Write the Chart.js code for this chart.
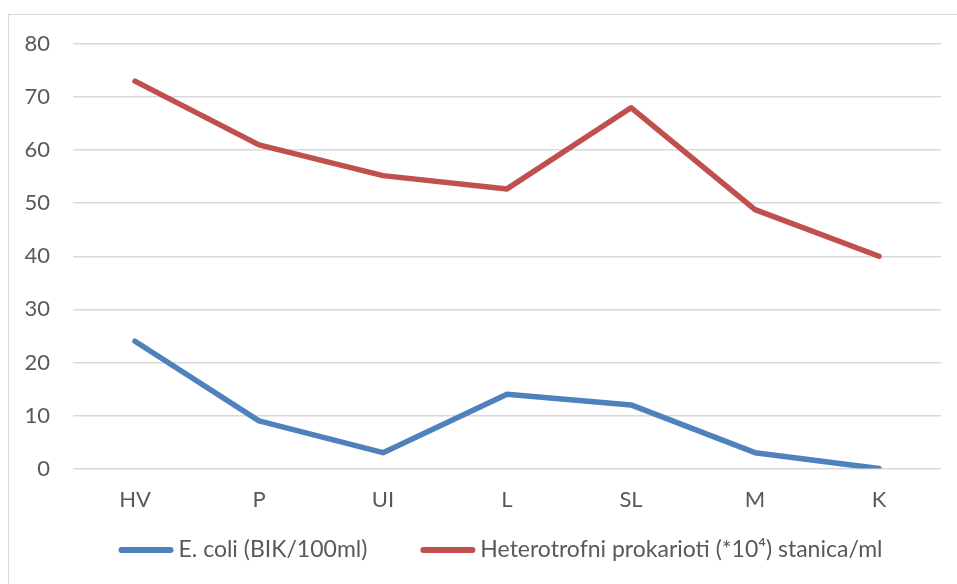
<!DOCTYPE html>
<html>
<head>
<meta charset="utf-8">
<script src="https://cdn.jsdelivr.net/npm/chart.js@4"></script>
<style>
  html, body { margin: 0; padding: 0; background: #fff; }
  body { width: 957px; height: 584px; position: relative; overflow: hidden; }
  #frame { position: absolute; left: 8px; top: 14px; width: 990px; height: 600px;
           border: 1.5px solid #d9d9d9; box-sizing: border-box; }
  #wrap { position: absolute; left: 9px; top: 15px; width: 983px; height: 569px; }
</style>
</head>
<body>
<div id="frame"></div>
<div id="wrap"><canvas id="c"></canvas></div>
<script>
// Sampling sites along the route
const categories = ['HV', 'P', 'UI', 'L', 'SL', 'M', 'K'];
// E. coli counts (BIK/100ml)
const ecoli = [24, 9, 3, 14, 12, 3, 0];
// Heterotrophic prokaryotes (*10^4 cells/ml)
const heterotrofni = [73, 61, 55.2, 52.7, 68, 48.8, 40];
const yTicks = [0, 10, 20, 30, 40, 50, 60, 70, 80];

const fontFamily = "Lato, 'Noto Sans', sans-serif";
const textColor = '#595959';
const fontSize = 22;
const legendFontSize = 23;

// Bottom legend: a short thick line sample directly followed by the series name
const bottomLegend = {
  id: 'bottomLegend',
  afterDraw(chart) {
    const ctx = chart.ctx;
    const sampleLen = 55, textGap = 5, itemGap = 53;
    ctx.save();
    ctx.font = legendFontSize + 'px ' + fontFamily;
    const items = chart.data.datasets.map(ds => ({
      text: ds.label, color: ds.borderColor, w: ctx.measureText(ds.label).width
    }));
    const total = items.reduce((s, it) => s + sampleLen + textGap + it.w, 0) + itemGap * (items.length - 1);
    let x = (chart.width - total) / 2;
    const y = chart.height - 34;
    items.forEach(it => {
      ctx.strokeStyle = it.color;
      ctx.lineWidth = 6;
      ctx.lineCap = 'round';
      ctx.beginPath();
      ctx.moveTo(x + 3, y);
      ctx.lineTo(x + sampleLen - 3, y);
      ctx.stroke();
      ctx.fillStyle = textColor;
      ctx.textAlign = 'left';
      ctx.textBaseline = 'middle';
      ctx.fillText(it.text, x + sampleLen + textGap, y);
      x += sampleLen + textGap + it.w + itemGap;
    });
    ctx.restore();
  }
};

new Chart(document.getElementById('c'), {
  type: 'line',
  data: {
    labels: categories,
    datasets: [
      {
        label: 'E. coli (BIK/100ml)',
        data: ecoli,
        borderColor: '#4f81bd',
        backgroundColor: '#4f81bd',
        borderWidth: 5.5,
        pointRadius: 0,
        tension: 0,
        borderCapStyle: 'round',
        borderJoinStyle: 'round'
      },
      {
        label: 'Heterotrofni prokarioti (*10\u2074) stanica/ml',
        data: heterotrofni,
        borderColor: '#c0504d',
        backgroundColor: '#c0504d',
        borderWidth: 5.5,
        pointRadius: 0,
        tension: 0,
        borderCapStyle: 'round',
        borderJoinStyle: 'round'
      }
    ]
  },
  plugins: [bottomLegend],
  options: {
    responsive: true,
    maintainAspectRatio: false,
    animation: false,
    layout: { padding: { top: 29, right: 51, bottom: 61, left: 0 } },
    plugins: {
      tooltip: { enabled: false },
      legend: { display: false }
    },
    scales: {
      x: {
        offset: true,
        grid: { display: false },
        border: { display: false },
        ticks: { color: textColor, font: { family: fontFamily, size: fontSize }, padding: 10 }
      },
      y: {
        min: 0,
        max: 80,
        afterBuildTicks: (axis) => { axis.ticks = yTicks.map(v => ({ value: v })); },
        afterFit: (axis) => { axis.width = 64; axis.paddingTop = 0; axis.paddingBottom = 0; },
        grid: { color: '#d9d9d9', lineWidth: 1.5, drawTicks: false },
        border: { display: false },
        ticks: { color: textColor, font: { family: fontFamily, size: fontSize }, padding: 23 }
      }
    }
  }
});
</script>
</body>
</html>
